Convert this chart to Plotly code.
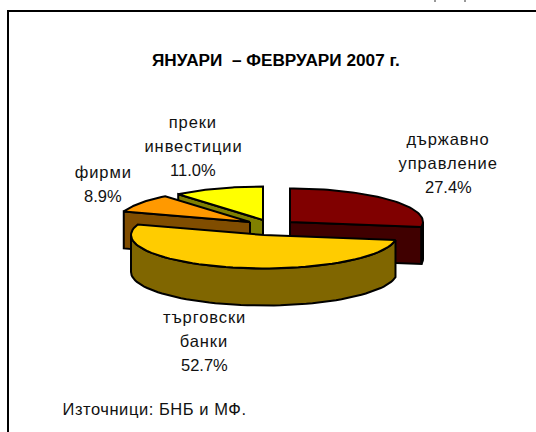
import math
import plotly.graph_objects as go

title = "ЯНУАРИ  – ФЕВРУАРИ 2007 г."
source_note = "Източници: БНБ и МФ."
category_lines = [["държавно", "управление"], ["търговски", "банки"], ["фирми"], ["преки", "инвестиции"]]
shares = [27.4, 52.7, 8.9, 11.0]

top_colors = ["#800000", "#ffcc00", "#ff9900", "#ffff00"]
wall_colors = ["#400000", "#806600", "#804d00", "#808000"]
rim_colors = ["#0a0000", "#806600", "#804d00", "#808000"]
apexes = [(290, 222), (264, 235), (250, 222), (263, 220)]
label_x = [448, 204, 103, 193]
label_y = [139, 317, 172, 122]
LINE_GAP = 24
RX, RY, DEPTH = 133, 33.5, 37
FONT = "Liberation Sans"

fig = go.Figure()


def poly(xs, ys, color):
    fig.add_trace(go.Scatter(x=xs, y=ys, mode="lines", fill="toself", fillcolor=color,
                             line=dict(color="black", width=2), hoverinfo="skip", showlegend=False))


def arc(cx, cy, a0, a1, dy=0, n=60):
    pts = [a0 + (a1 - a0) * i / n for i in range(n + 1)]
    return ([cx + RX * math.sin(math.radians(a)) for a in pts],
            [cy - RY * math.cos(math.radians(a)) + dy for a in pts])


# angles clockwise from twelve o'clock, from the shares
spans = []
start = 0.0
for s in shares:
    spans.append((start, start + s * 3.6))
    start += s * 3.6


def draw(i):
    cx, cy = apexes[i]
    a0, a1 = spans[i]
    # radial cut faces toward the viewer
    for a in (a0, a1):
        nx = math.sin(math.radians(a))
        ny = -math.cos(math.radians(a))
        facing = (i == 0 and a == a1) or (i in (2, 3) and a == a0)
        if facing:
            ex, ey = cx + RX * nx, cy + RY * ny
            poly([cx, ex, ex, cx, cx], [cy, ey, ey + DEPTH, cy + DEPTH, cy], wall_colors[i])
    # rim on the front half of the ellipse
    lo, hi = max(a0, 90), min(a1, 270)
    if lo < hi:
        xt, yt = arc(cx, cy, lo, hi)
        xb, yb = arc(cx, cy, lo, hi, DEPTH)
        poly(xt + xb[::-1] + [xt[0]], yt + yb[::-1] + [yt[0]], rim_colors[i])
    # top face
    xt, yt = arc(cx, cy, a0, a1)
    poly([cx] + xt + [cx], [cy] + yt + [cy], top_colors[i])


for i in (3, 2, 0, 1):
    draw(i)

annotations = [dict(x=275.5, y=60, text="<b>" + title + "</b>", showarrow=False,
                    font=dict(family=FONT, size=17.2, color="black")),
               dict(x=66, y=409, text=source_note, showarrow=False, xanchor="left",
                    font=dict(family=FONT, size=16.5, color="#111111"))]
for lines, share, x, y in zip(category_lines, shares, label_x, label_y):
    for k, t in enumerate(lines + [f"{share:.1f}%"]):
        annotations.append(dict(x=x, y=y + k * LINE_GAP, text=t, showarrow=False,
                                font=dict(family=FONT, size=16.5, color="#111111")))

shapes = [
    dict(type="line", x0=8, x1=8, y0=11, y1=432, line=dict(color="black", width=2)),
    dict(type="line", x0=7, x1=536, y0=11, y1=11, line=dict(color="black", width=2)),
    dict(type="line", x0=435, x1=435, y0=0, y1=2, line=dict(color="#333333", width=1)),
    dict(type="line", x0=465, x1=465, y0=0, y1=2, line=dict(color="#333333", width=1)),
]

fig.update_layout(
    width=536, height=432, margin=dict(l=0, r=0, t=0, b=0),
    paper_bgcolor="white", plot_bgcolor="white", showlegend=False,
    xaxis=dict(range=[0, 536], visible=False, fixedrange=True),
    yaxis=dict(range=[432, 0], visible=False, fixedrange=True),
    annotations=annotations, shapes=shapes,
)
post = """
document.body.style.margin = '0';
document.documentElement.style.overflow = 'hidden';
document.querySelectorAll('.annotation-text').forEach(function (t) {
  var s = t.textContent;
  if (s.indexOf('ЯНУАРИ') === 0) { return; }
  if (s.indexOf('Източници') === 0) { t.style.letterSpacing = '0.55px'; return; }
  if (/[а-я]/i.test(s)) { t.style.letterSpacing = '0.9px'; }
});
"""
fig.write_html("out.html", config=dict(displayModeBar=False), post_script=post)
